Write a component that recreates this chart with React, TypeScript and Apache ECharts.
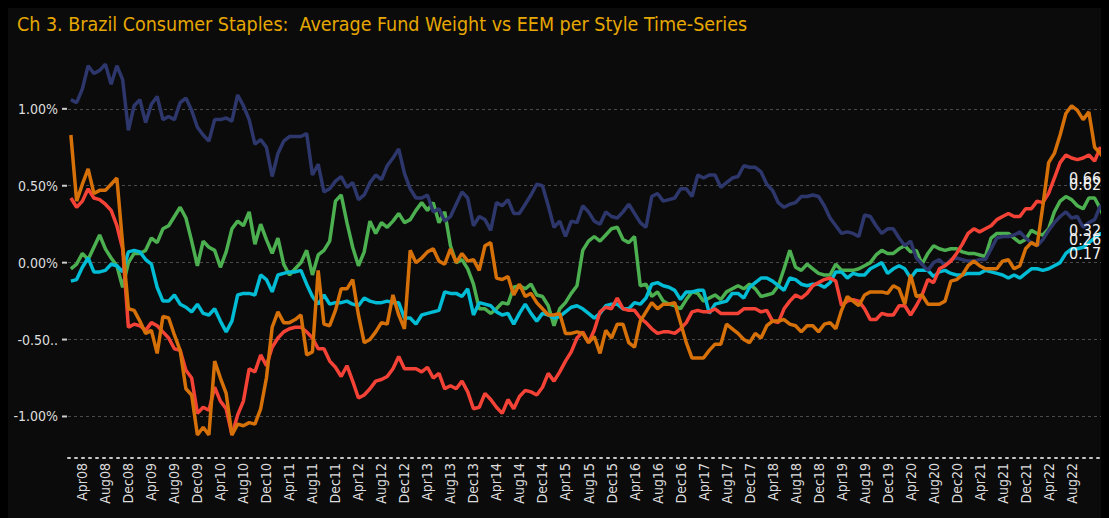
import React, { useEffect, useRef } from 'react';
import * as echarts from 'echarts';

const TITLE = 'Ch 3. Brazil Consumer Staples:  Average Fund Weight vs EEM per Style Time-Series';

// first category month (0-based month index, year)
const START_YEAR = 2008;
const START_MONTH = 1; // Feb
const MONTH_NAMES = ['Jan', 'Feb', 'Mar', 'Apr', 'May', 'Jun', 'Jul', 'Aug', 'Sep', 'Oct', 'Nov', 'Dec'];
const LABEL_MONTHS = ['Apr', 'Aug', 'Dec'];
const LAST_LABEL = 'Aug22';

const navySeries = [
  1.06, 1.04, 1.13, 1.28, 1.23, 1.25, 1.29, 1.16, 1.28, 1.19, 0.86, 1.02, 1.06, 0.91, 1.03, 1.08, 0.93, 0.95, 0.93, 1.04,
  1.07, 0.99, 0.88, 0.83, 0.79, 0.93, 0.93, 0.94, 0.92, 1.09, 1.02, 0.93, 0.77, 0.80, 0.75, 0.56, 0.71, 0.79, 0.82, 0.82, 0.82,
  0.84, 0.57, 0.64, 0.46, 0.48, 0.53, 0.56, 0.49, 0.52, 0.41, 0.44, 0.52, 0.57, 0.54, 0.63, 0.68, 0.74, 0.58,
  0.48, 0.42, 0.42, 0.44, 0.33, 0.35, 0.27, 0.30, 0.38, 0.46, 0.42, 0.24, 0.30, 0.28, 0.21, 0.39, 0.37, 0.41, 0.32, 0.32,
  0.38, 0.44, 0.51, 0.50, 0.37, 0.23, 0.27, 0.17, 0.27, 0.26, 0.37, 0.33, 0.27, 0.25, 0.33, 0.30, 0.29, 0.33, 0.38, 0.32,
  0.26, 0.23, 0.43, 0.45, 0.40, 0.41, 0.42, 0.48, 0.48, 0.43, 0.57, 0.55, 0.57, 0.57, 0.49, 0.52, 0.55, 0.56, 0.63,
  0.62, 0.62, 0.59, 0.51, 0.47, 0.39, 0.36, 0.38, 0.39, 0.43, 0.43, 0.44, 0.43, 0.37, 0.29, 0.24, 0.19, 0.20, 0.19, 0.17,
  0.31, 0.30, 0.24, 0.19, 0.22, 0.22, 0.16, 0.11, 0.14, 0.03, -0.01, -0.05, 0.00, 0.02, -0.02, 0.02, 0.03, 0.02, 0.01, 0.01,
  0.02, 0.02, 0.09, 0.16, 0.17, 0.17, 0.18, 0.20, 0.16, 0.13, 0.11, 0.15, 0.21, 0.26, 0.30, 0.33, 0.29, 0.30, 0.23, 0.26,
  0.28, 0.37, 0.32,
];

const orangeSeries = [
  0.83, 0.40, 0.51, 0.61, 0.45, 0.47, 0.47, 0.51, 0.55, 0.12, -0.30, -0.31, -0.38, -0.46, -0.44, -0.59, -0.35, -0.36, -0.47, -0.57,
  -0.82, -0.86, -1.12, -1.07, -1.12, -0.64, -0.75, -0.85, -1.12, -1.05, -1.06, -1.04, -1.05, -0.95, -0.75, -0.42, -0.32, -0.39, -0.39, -0.37, -0.34,
  -0.60, -0.58, -0.05, -0.40, -0.41, -0.31, -0.17, -0.17, -0.11, -0.34, -0.52, -0.50, -0.45, -0.39, -0.40, -0.21, -0.34, -0.43,
  0.08, 0.00, 0.03, 0.07, 0.09, 0.01, -0.01, 0.09, 0.00, 0.06, 0.01, 0.02, -0.05, 0.11, 0.13, -0.10, -0.11, -0.09, -0.21, -0.14,
  -0.22, -0.20, -0.26, -0.30, -0.34, -0.34, -0.33, -0.46, -0.46, -0.45, -0.46, -0.52, -0.48, -0.59, -0.44, -0.49, -0.40, -0.40, -0.52, -0.55,
  -0.38, -0.32, -0.26, -0.30, -0.27, -0.27, -0.26, -0.39, -0.52, -0.62, -0.62, -0.62, -0.57, -0.53, -0.53, -0.40, -0.43, -0.46, -0.50,
  -0.52, -0.46, -0.49, -0.41, -0.38, -0.38, -0.37, -0.40, -0.41, -0.45, -0.41, -0.41, -0.45, -0.40, -0.39, -0.43, -0.31, -0.22, -0.25, -0.28,
  -0.21, -0.19, -0.19, -0.19, -0.20, -0.15, -0.17, -0.27, -0.08, -0.22, -0.21, -0.27, -0.27, -0.27, -0.25, -0.12, -0.11, -0.08, -0.02, 0.01,
  -0.02, -0.04, -0.04, -0.04, 0.01, 0.02, -0.04, -0.02, 0.09, 0.13, 0.11, 0.37, 0.65, 0.71, 0.83, 0.97, 1.02, 0.99, 0.93, 0.98,
  0.75, 0.71, 0.66,
];

const redSeries = [
  0.42, 0.36, 0.40, 0.48, 0.42, 0.41, 0.38, 0.34, 0.24, 0.09, -0.42, -0.40, -0.41, -0.44, -0.39, -0.41, -0.45, -0.49, -0.56, -0.57,
  -0.70, -0.75, -0.98, -0.94, -0.96, -0.81, -0.90, -0.95, -1.12, -0.99, -0.90, -0.69, -0.71, -0.60, -0.67, -0.55, -0.49, -0.45, -0.43, -0.42, -0.42,
  -0.45, -0.49, -0.56, -0.56, -0.64, -0.68, -0.74, -0.67, -0.77, -0.88, -0.86, -0.82, -0.77, -0.76, -0.74, -0.69, -0.61, -0.69,
  -0.69, -0.69, -0.71, -0.68, -0.75, -0.72, -0.82, -0.80, -0.82, -0.77, -0.84, -0.95, -0.94, -0.85, -0.89, -0.94, -0.98, -0.89, -0.95, -0.87,
  -0.83, -0.84, -0.86, -0.81, -0.72, -0.77, -0.71, -0.64, -0.58, -0.49, -0.45, -0.52, -0.44, -0.32, -0.29, -0.30, -0.23, -0.30, -0.31, -0.31,
  -0.36, -0.39, -0.43, -0.46, -0.45, -0.45, -0.46, -0.43, -0.39, -0.32, -0.31, -0.32, -0.32, -0.30, -0.33, -0.33, -0.33, -0.33, -0.30,
  -0.30, -0.30, -0.32, -0.31, -0.38, -0.39, -0.30, -0.25, -0.21, -0.23, -0.20, -0.15, -0.13, -0.11, -0.10, -0.12, -0.28, -0.25, -0.24, -0.25,
  -0.30, -0.37, -0.37, -0.33, -0.34, -0.34, -0.28, -0.28, -0.34, -0.28, -0.21, -0.11, -0.13, -0.04, -0.02, 0.01, 0.06, 0.12, 0.19, 0.22,
  0.20, 0.22, 0.24, 0.28, 0.30, 0.32, 0.30, 0.30, 0.35, 0.35, 0.40, 0.39, 0.45, 0.55, 0.65, 0.70, 0.68, 0.67, 0.68, 0.70,
  0.66, 0.75, 0.62,
];

const greenSeries = [
  -0.04, -0.01, 0.06, 0.02, 0.10, 0.18, 0.09, 0.03, -0.02, -0.16, 0.00, 0.06, 0.06, 0.08, 0.16, 0.13, 0.22, 0.24, 0.30, 0.36,
  0.29, 0.14, -0.02, 0.14, 0.10, 0.08, -0.03, 0.07, 0.22, 0.27, 0.24, 0.33, 0.12, 0.25, 0.15, 0.06, 0.16, -0.01, -0.08, -0.04, 0.00,
  0.08, -0.08, 0.05, 0.08, 0.14, 0.40, 0.44, 0.26, 0.10, -0.02, 0.07, 0.27, 0.19, 0.26, 0.23, 0.27, 0.32, 0.26,
  0.28, 0.34, 0.39, 0.34, 0.39, 0.26, 0.33, 0.11, 0.00, 0.02, -0.04, -0.14, -0.30, -0.30, -0.33, -0.30, -0.26, -0.27, -0.16, -0.15,
  -0.17, -0.14, -0.21, -0.22, -0.28, -0.41, -0.30, -0.26, -0.20, -0.15, 0.08, 0.14, 0.17, 0.14, 0.18, 0.22, 0.23, 0.15, 0.13, 0.17,
  -0.15, -0.14, -0.22, -0.19, -0.25, -0.27, -0.28, -0.30, -0.24, -0.19, -0.20, -0.25, -0.23, -0.21, -0.24, -0.19, -0.17, -0.15, -0.17,
  -0.14, -0.17, -0.22, -0.21, -0.20, -0.15, -0.04, 0.08, -0.03, -0.05, -0.01, -0.04, -0.07, -0.08, -0.08, -0.01, -0.05, -0.05, -0.05, -0.04,
  -0.02, 0.00, 0.05, 0.08, 0.06, 0.06, 0.09, 0.11, 0.07, 0.08, -0.01, 0.06, 0.11, 0.09, 0.08, 0.09, 0.09, 0.07, 0.06, 0.06,
  0.05, 0.04, 0.16, 0.19, 0.19, 0.19, 0.16, 0.13, 0.15, 0.21, 0.19, 0.18, 0.22, 0.33, 0.40, 0.43, 0.41, 0.37, 0.35, 0.42,
  0.42, 0.35, 0.26,
];

const cyanSeries = [
  -0.12, -0.11, -0.03, 0.03, -0.06, -0.06, -0.05, -0.01, -0.02, -0.06, 0.07, 0.08, 0.07, 0.02, -0.01, -0.16, -0.25, -0.25, -0.21, -0.27,
  -0.29, -0.32, -0.27, -0.33, -0.34, -0.30, -0.38, -0.45, -0.38, -0.21, -0.20, -0.20, -0.21, -0.08, -0.11, -0.19, -0.08, -0.07, -0.06, -0.06, -0.05,
  -0.14, -0.22, -0.27, -0.21, -0.27, -0.26, -0.26, -0.25, -0.27, -0.28, -0.23, -0.25, -0.26, -0.26, -0.25, -0.26, -0.26, -0.36,
  -0.36, -0.40, -0.34, -0.33, -0.32, -0.31, -0.19, -0.20, -0.20, -0.22, -0.17, -0.34, -0.26, -0.27, -0.28, -0.32, -0.34, -0.33, -0.40, -0.33,
  -0.27, -0.33, -0.38, -0.33, -0.34, -0.36, -0.35, -0.32, -0.29, -0.28, -0.30, -0.33, -0.36, -0.33, -0.28, -0.27, -0.27, -0.30, -0.30, -0.26,
  -0.27, -0.23, -0.14, -0.13, -0.15, -0.16, -0.18, -0.24, -0.19, -0.19, -0.18, -0.18, -0.33, -0.27, -0.26, -0.25, -0.20, -0.20, -0.23,
  -0.16, -0.13, -0.10, -0.10, -0.12, -0.15, -0.18, -0.10, -0.11, -0.14, -0.15, -0.14, -0.14, -0.16, -0.13, -0.06, -0.06, -0.10, -0.07, -0.08,
  -0.08, -0.04, -0.02, 0.00, -0.07, -0.04, -0.02, -0.04, -0.10, -0.05, -0.05, -0.05, -0.09, -0.06, -0.05, -0.07, -0.08, -0.08, -0.07, -0.07,
  -0.07, -0.05, -0.06, -0.07, -0.08, -0.10, -0.08, -0.10, -0.07, -0.04, -0.04, -0.05, -0.04, -0.02, 0.00, 0.06, 0.09, 0.09, 0.10, 0.13,
  0.16, 0.19, 0.17,
];

const Y_TICKS = [-1, -0.5, 0, 0.5, 1];

const FONT = '"DejaVu Sans Condensed", "DejaVu Sans", sans-serif';

function buildCategories(n: number): string[] {
  const out: string[] = [];
  for (let i = 0; i < n; i++) {
    const m = (START_MONTH + i) % 12;
    const y = START_YEAR + Math.floor((START_MONTH + i) / 12);
    out.push(MONTH_NAMES[m] + String(y % 100).padStart(2, '0'));
  }
  return out;
}

export default function App() {
  const ref = useRef<HTMLDivElement>(null);
  useEffect(() => {
    document.body.style.background = '#000';
    const chart = echarts.init(ref.current!, null, { renderer: 'svg' });
    const categories = buildCategories(navySeries.length);
    const lastLabelled = categories.indexOf(LAST_LABEL);
    const mk = (name: string, data: number[], color: string) => ({
      name,
      type: 'line',
      data,
      showSymbol: false,
      symbol: 'none',
      lineStyle: { color, width: 3.5 },
      itemStyle: { color },
      endLabel: {
        show: true,
        formatter: (p: any) => Number(p.value).toFixed(2) + '%',
        color: '#f2f2f2',
        fontSize: 16,
        fontFamily: FONT,
        offset: [-45, 17],
      },
      emphasis: { disabled: true },
    });
    chart.setOption({
      animation: false,
      backgroundColor: '#0b0b0b',
      title: {
        text: TITLE,
        left: 4,
        top: 1,
        textStyle: { color: '#e6a700', fontSize: 19.5, fontWeight: 'normal', fontFamily: FONT },
      },
      grid: { left: 60, right: 0, top: 47, bottom: 60, containLabel: false },
      xAxis: {
        type: 'category',
        data: categories,
        boundaryGap: true,
        axisLine: { show: true, onZero: false, lineStyle: { color: '#c8c8c8', width: 2, type: [2, 5] } },
        axisTick: { show: false },
        splitLine: { show: false },
        axisLabel: {
          rotate: 90,
          color: '#dddddd',
          fontSize: 14,
          fontFamily: FONT,
          margin: 5,
          interval: (idx: number, val: string) => LABEL_MONTHS.includes(val.slice(0, 3)) && idx <= lastLabelled,
        },
      },
      yAxis: {
        type: 'value',
        min: -1.27,
        max: 1.35,
        axisLine: { show: false },
        axisTick: { show: false },
        splitLine: {
          show: true,
          showMinLine: false,
          showMaxLine: false,
          lineStyle: { color: '#4a4a4a', width: 1, type: [3, 3] },
        },
        axisLabel: {
          color: '#dddddd',
          fontSize: 14,
          fontFamily: FONT,
          margin: 1,
          customValues: Y_TICKS,
          formatter: (v: number) => {
            const txt = Math.abs(v + 0.5) < 1e-9 ? '-0.50..' : v.toFixed(2) + '%';
            return '{v|' + txt + '}{t| }';
          },
          rich: {
            v: { color: '#dddddd', fontSize: 14, fontFamily: FONT, padding: [0, 4, 0, 0] },
            t: { width: 5, height: 2, backgroundColor: '#cccccc', fontSize: 2, lineHeight: 2 },
          },
        },
      },
      series: [
        mk('Yield', greenSeries, '#4caf50'),
        mk('Value', cyanSeries, '#00bcd4'),
        mk('Growth', navySeries, '#2e376c'),
        mk('GARP', redSeries, '#f44336'),
        mk('Aggressive Growth', orangeSeries, '#d67008'),
      ],
    });
    return () => chart.dispose();
  }, []);
  return <div ref={ref} style={{ width: 1101, height: 510 }} />;
}
